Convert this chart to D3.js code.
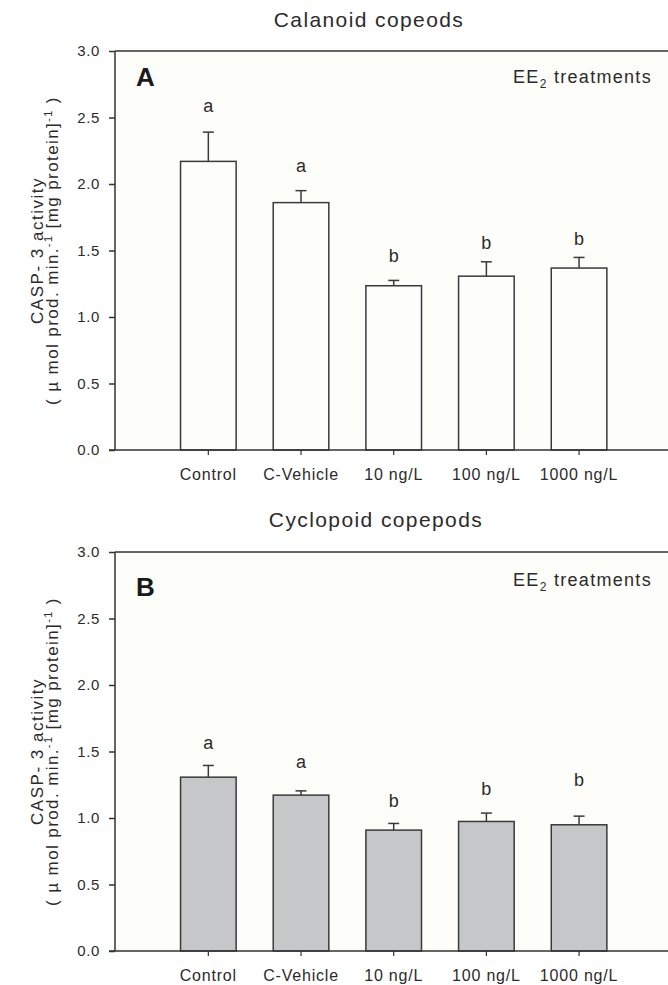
<!DOCTYPE html>
<html>
<head>
<meta charset="utf-8">
<script src="https://cdn.jsdelivr.net/npm/d3@7"></script>
<style>
  html, body { margin: 0; padding: 0; background: #ffffff; }
  svg { display: block; }
  text { font-family: "Liberation Sans", Arial, sans-serif; fill: #2b2b2b; }
</style>
</head>
<body>
<svg id="chart" width="668" height="985"></svg>
<script>
// ---- data ----
const categories = ["Control", "C-Vehicle", "10 ng/L", "100 ng/L", "1000 ng/L"];
const yTickValues = [0, 0.5, 1.0, 1.5, 2.0, 2.5, 3.0];

const calanoidMeans = [2.17, 1.86, 1.235, 1.307, 1.368];
const calanoidErrors = [0.22, 0.09, 0.04, 0.108, 0.08];
const calanoidLetters = ["a", "a", "b", "b", "b"];
const calanoidLetterLevels = [2.54, 2.09, 1.41, 1.515, 1.54];

const cyclopoidMeans = [1.307, 1.172, 0.909, 0.974, 0.949];
const cyclopoidErrors = [0.088, 0.032, 0.05, 0.063, 0.065];
const cyclopoidLetters = ["a", "a", "b", "b", "b"];
const cyclopoidLetterLevels = [1.52, 1.376, 1.083, 1.17, 1.237];

// ---- drawing ----
const svg = d3.select("#chart");
const axisColor = "#333333";
const xLeft = 115, xRight = 668;

const x = d3.scaleBand()
  .domain(categories)
  .range([162, 625.4])
  .paddingInner(0.4)
  .paddingOuter(0.2);

function panel(cfg) {
  const g = svg.append("g");
  const y = d3.scaleLinear().domain([0, 3]).range([cfg.bottom, cfg.top]);

  // plot background
  g.append("rect")
    .attr("x", xLeft).attr("y", cfg.top)
    .attr("width", xRight - xLeft).attr("height", cfg.bottom - cfg.top)
    .attr("fill", "#fdfdf9");

  // title
  g.append("text")
    .attr("x", cfg.titleX).attr("y", cfg.titleY)
    .attr("text-anchor", "middle")
    .style("font-size", "21px")
    .style("letter-spacing", "1.4px")
    .text(cfg.title);

  // panel letter
  g.append("text")
    .attr("x", 136).attr("y", cfg.top + cfg.letterDy)
    .style("font-size", "26px").style("font-weight", "bold")
    .style("fill", "#1a1a1a")
    .text(cfg.panelLetter);

  // EE2 treatments
  const ee = g.append("text")
    .attr("x", 513).attr("y", cfg.top + cfg.eeDy)
    .style("font-size", "18px")
    .style("letter-spacing", "1.3px");
  ee.append("tspan").text("EE");
  ee.append("tspan").attr("dy", 5).style("font-size", "12px").text("2");
  ee.append("tspan").attr("dy", -5).text(" treatments");

  const data = categories.map((c, i) => ({
    cat: c, mean: cfg.means[i], err: cfg.errors[i],
    letter: cfg.letters[i], level: cfg.levels[i]
  }));

  // bars
  g.selectAll("rect.bar").data(data).enter().append("rect")
    .attr("class", "bar")
    .attr("x", d => x(d.cat))
    .attr("y", d => y(d.mean))
    .attr("width", x.bandwidth())
    .attr("height", d => y(0) - y(d.mean))
    .attr("fill", cfg.fill)
    .attr("stroke", "#3a3a3a")
    .attr("stroke-width", 1.5);

  // error bars (upper only)
  const cx = d => x(d.cat) + x.bandwidth() / 2;
  g.selectAll("line.err").data(data).enter().append("line")
    .attr("x1", cx).attr("x2", cx)
    .attr("y1", d => y(d.mean)).attr("y2", d => y(d.mean + d.err))
    .attr("stroke", "#3a3a3a").attr("stroke-width", 1.5);
  g.selectAll("line.cap").data(data).enter().append("line")
    .attr("x1", d => cx(d) - 5.5).attr("x2", d => cx(d) + 5.5)
    .attr("y1", d => y(d.mean + d.err)).attr("y2", d => y(d.mean + d.err))
    .attr("stroke", "#3a3a3a").attr("stroke-width", 1.5);

  // significance letters
  g.selectAll("text.sig").data(data).enter().append("text")
    .attr("x", cx).attr("y", d => y(d.level))
    .attr("text-anchor", "middle")
    .style("font-size", "18px")
    .text(d => d.letter);

  // y axis
  const yAxis = d3.axisLeft(y).tickValues(yTickValues)
    .tickFormat(d3.format(".1f")).tickSize(6).tickPadding(9);
  const ya = g.append("g").attr("transform", `translate(${xLeft},0)`).call(yAxis);
  ya.select(".domain").remove();
  ya.selectAll(".tick line").attr("stroke", axisColor).attr("stroke-width", 1.5);
  ya.selectAll(".tick text")
    .style("font-size", "15px").style("letter-spacing", "0.6px")
    .style("font-family", "'Liberation Sans', Arial, sans-serif")
    .attr("fill", "#2b2b2b");

  // frame lines: left, top
  g.append("line").attr("x1", xLeft).attr("x2", xLeft)
    .attr("y1", cfg.top).attr("y2", cfg.bottom)
    .attr("stroke", axisColor).attr("stroke-width", 1.5);
  g.append("line").attr("x1", xLeft).attr("x2", xRight)
    .attr("y1", cfg.top).attr("y2", cfg.top)
    .attr("stroke", axisColor).attr("stroke-width", 1.5);

  // x axis
  const xAxis = d3.axisBottom(x).tickSize(5).tickPadding(14).tickSizeOuter(0);
  const xa = g.append("g").attr("transform", `translate(0,${cfg.bottom})`).call(xAxis);
  xa.select(".domain").remove();
  xa.selectAll(".tick line").attr("stroke", axisColor).attr("stroke-width", 1.2);
  xa.selectAll(".tick text")
    .style("font-size", "16px").style("letter-spacing", "0.8px")
    .style("font-family", "'Liberation Sans', Arial, sans-serif")
    .attr("fill", "#2b2b2b");
  g.append("line").attr("x1", xLeft - 6).attr("x2", xRight)
    .attr("y1", cfg.bottom).attr("y2", cfg.bottom)
    .attr("stroke", axisColor).attr("stroke-width", 1.5);

  // y label
  const midY = (cfg.top + cfg.bottom) / 2;
  g.append("text")
    .attr("transform", `translate(43,${midY}) rotate(-90)`)
    .attr("text-anchor", "middle")
    .style("font-size", "17px").style("letter-spacing", "1.5px")
    .text("CASP- 3 activity");
  const l2 = g.append("text")
    .attr("transform", `translate(58,${midY}) rotate(-90)`)
    .attr("text-anchor", "middle")
    .style("font-size", "17px").style("letter-spacing", "1.4px");
  l2.append("tspan").text("( \u00b5 mol prod. min.");
  l2.append("tspan").attr("dy", -6).style("font-size", "11px").text("-1");
  l2.append("tspan").attr("dy", 6).text("  [mg protein]");
  l2.append("tspan").attr("dy", -6).style("font-size", "11px").text("-1");
  l2.append("tspan").attr("dy", 6).text(" )");
}

panel({
  top: 51, bottom: 450, title: "Calanoid copeods", titleX: 369, titleY: 27,
  panelLetter: "A", letterDy: 35, eeDy: 32,
  means: calanoidMeans, errors: calanoidErrors,
  letters: calanoidLetters, levels: calanoidLetterLevels, fill: "#fdfdfb"
});
panel({
  top: 552, bottom: 951, title: "Cyclopoid copepods", titleX: 376, titleY: 527,
  panelLetter: "B", letterDy: 44, eeDy: 34,
  means: cyclopoidMeans, errors: cyclopoidErrors,
  letters: cyclopoidLetters, levels: cyclopoidLetterLevels, fill: "#c5c7c9"
});
</script>
</body>
</html>
